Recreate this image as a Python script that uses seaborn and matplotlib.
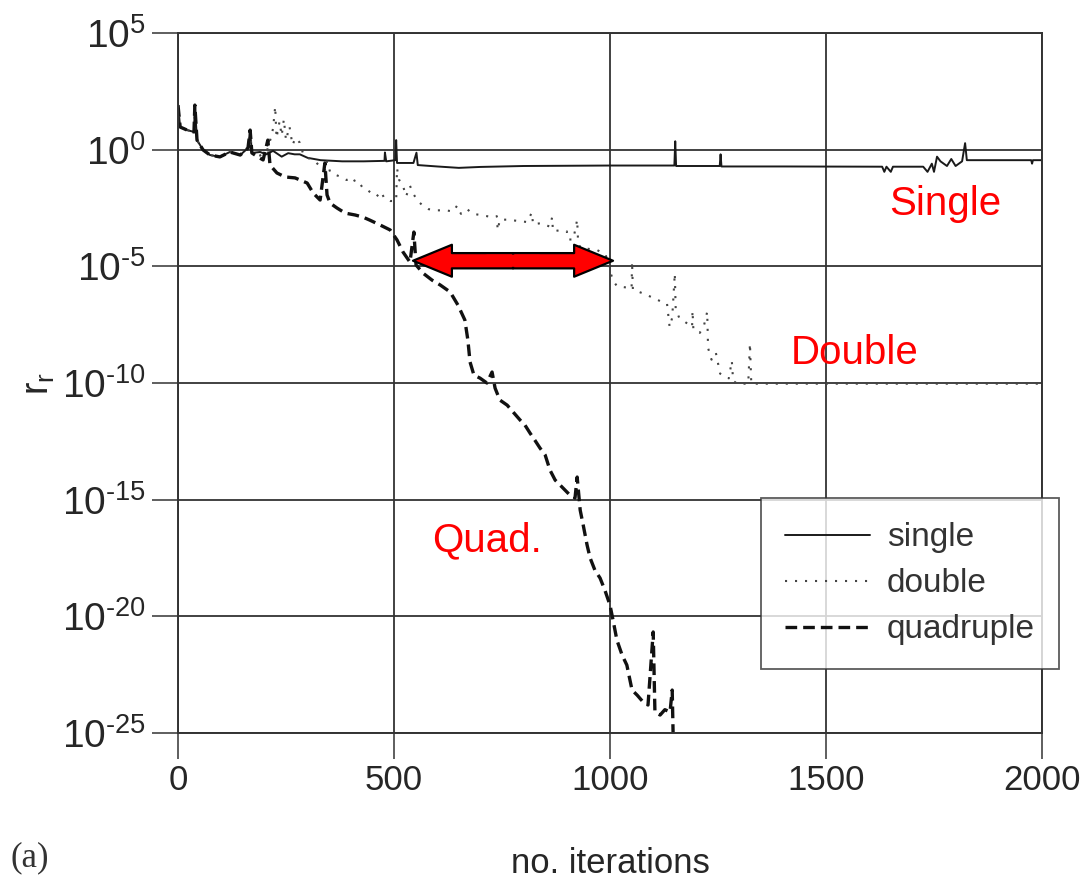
import numpy as np
import pandas as pd
import matplotlib
matplotlib.use("Agg")
import matplotlib.pyplot as plt
import seaborn as sns

# ---------------- data (log10 of r_r) ----------------
single_iter = [0, 5, 21, 37, 39, 44, 58, 74, 97, 120, 144, 162, 167, 171, 190, 205, 220, 240,
               255, 270, 282, 300, 330, 380, 430, 478, 479, 482, 503, 505, 507, 545, 552, 555,
               600, 650, 700, 800, 1000, 1149, 1151, 1153, 1254, 1256, 1258, 1400, 1630, 1635,
               1640, 1650, 1655, 1725, 1735, 1745, 1750, 1757, 1765, 1780, 1790, 1800, 1815,
               1822, 1826, 1975, 1977, 1979, 2000]
single_log = [1.91, 0.97, 0.84, 0.76, 1.91, 0.41, -0.01, -0.23, -0.31, -0.10, -0.23, 0.07, 0.84,
              -0.14, -0.10, -0.20, -0.05, -0.30, -0.15, -0.20, -0.20, -0.35, -0.45, -0.50,
              -0.50, -0.48, -0.12, -0.50, -0.45, 0.41, -0.57, -0.57, -0.13, -0.66, -0.72,
              -0.78, -0.74, -0.70, -0.68, -0.68, 0.36, -0.70, -0.70, -0.20, -0.72, -0.72,
              -0.73, -0.95, -0.73, -0.95, -0.73, -0.73, -0.95, -0.60, -0.95, -0.30, -0.50,
              -0.70, -0.40, -0.70, -0.50, 0.28, -0.45, -0.45, -0.60, -0.45, -0.45]

double_iter = [0, 5, 21, 37, 39, 44, 58, 74, 97, 120, 144, 162, 167, 171, 190, 205, 212, 220,
               225, 228, 235, 240, 245, 250, 258, 265, 272, 282, 290, 305, 320, 330, 342, 345,
               352, 360, 375, 390, 405, 412, 421, 428, 440, 450, 460, 470, 478, 491, 505, 507,
               512, 520, 528, 537, 545, 555, 567, 580, 600, 620, 637, 646, 655, 669, 683, 700,
               715, 729, 738, 740, 745, 762, 785, 808, 819, 822, 840, 861, 866, 868, 885, 900,
               903, 915, 924, 926, 931, 950, 970, 990, 1000, 1007, 1016, 1035, 1050, 1051,
               1053, 1075, 1100, 1123, 1132, 1138, 1144, 1150, 1152, 1160, 1175, 1190, 1191,
               1193, 1208, 1218, 1225, 1227, 1235, 1245, 1255, 1262, 1275, 1282, 1285, 1294,
               1320, 1324, 1327, 2000]
double_log = [1.91, 0.97, 0.84, 0.76, 1.91, 0.41, -0.01, -0.23, -0.31, -0.10, -0.23, 0.07, 0.84,
              -0.14, -0.25, -0.10, 0.30, 0.90, 1.85, 0.50, 1.20, 0.60, 1.30, 0.40, 1.00, 0.20,
              0.50, 0.30, -0.20, -0.40, -0.55, -0.75, -0.90, -0.50, -0.95, -1.05, -1.15, -1.30,
              -1.20, -1.45, -1.45, -1.65, -1.75, -1.90, -2.00, -1.80, -2.10, -2.20, -2.20,
              -0.80, -1.30, -1.50, -2.00, -1.55, -1.90, -2.20, -2.40, -2.55, -2.60, -2.60,
              -2.65, -2.40, -2.75, -2.55, -2.75, -2.80, -2.85, -2.90, -2.85, -3.45, -3.00,
              -3.00, -3.05, -3.10, -2.70, -3.20, -3.15, -3.30, -2.90, -3.50, -3.45, -3.50,
              -3.85, -3.85, -3.00, -3.90, -4.20, -4.25, -4.30, -4.50, -5.20, -5.60, -5.85,
              -5.90, -5.95, -4.80, -6.00, -6.15, -6.35, -6.55, -6.60, -7.60, -7.20, -5.30,
              -6.80, -7.20, -7.40, -7.60, -6.90, -7.70, -7.85, -7.50, -6.95, -8.50, -9.00,
              -8.70, -9.60, -9.70, -9.80, -9.05, -9.90, -10.03, -10.03, -8.30, -10.03, -10.03]

quad_iter = [0, 5, 21, 37, 39, 44, 58, 74, 97, 120, 144, 162, 167, 171, 185, 197, 208, 213, 229,
             248, 271, 299, 313, 329, 340, 345, 352, 368, 387, 410, 428, 444, 468, 491, 507,
             521, 537, 546, 551, 567, 588, 607, 630, 648, 664, 671, 676, 685, 699, 715, 727,
             734, 745, 762, 776, 792, 803, 815, 826, 838, 850, 861, 873, 889, 907, 919, 924,
             931, 938, 947, 954, 965, 977, 988, 1000, 1007, 1016, 1028, 1039, 1051, 1063,
             1077, 1088, 1100, 1104, 1116, 1127, 1139, 1144, 1146]
quad_log = [1.91, 0.97, 0.84, 0.76, 1.91, 0.41, -0.01, -0.23, -0.31, -0.10, -0.23, 0.07, 0.84,
            -0.14, -0.31, -0.44, 0.41, -0.66, -1.00, -1.17, -1.21, -1.43, -1.86, -2.16, -0.57,
            -1.94, -2.29, -2.50, -2.72, -2.80, -2.89, -3.02, -3.23, -3.44, -3.87, -4.39,
            -4.82, -3.53, -4.94, -5.29, -5.59, -5.80, -6.10, -6.66, -7.30, -8.16, -9.10,
            -9.66, -9.79, -10.00, -9.53, -10.22, -10.73, -10.95, -11.25, -11.59, -11.80,
            -12.15, -12.45, -12.79, -13.09, -13.73, -14.16, -14.46, -14.80, -14.93, -14.03,
            -15.45, -16.09, -16.95, -17.50, -18.02, -18.36, -18.87, -19.52, -20.16, -21.02,
            -21.66, -22.09, -23.16, -23.38, -23.68, -23.80, -20.67, -24.10, -24.23, -24.00,
            -24.10, -23.16, -24.96]

series_labels = ["single", "double", "quadruple"]
xtick_values = [0, 500, 1000, 1500, 2000]
ytick_exponents = [5, 0, -5, -10, -15, -20, -25]

# ---------------- style ----------------
sns.set_style("ticks")
plt.rcParams["font.family"] = ["Liberation Sans", "DejaVu Sans"]
plt.rcParams["mathtext.fontset"] = "custom"
plt.rcParams["mathtext.rm"] = "Liberation Sans"
plt.rcParams["mathtext.it"] = "Liberation Sans"
plt.rcParams["mathtext.bf"] = "Liberation Sans"

fig = plt.figure(figsize=(10.92, 8.81), dpi=100)
ax = fig.add_axes([178 / 1092, 1 - 733 / 881, (1042 - 178) / 1092, 700 / 881])

frames = [
    pd.DataFrame({"it": single_iter, "rr": np.power(10.0, single_log)}),
    pd.DataFrame({"it": double_iter, "rr": np.power(10.0, double_log)}),
    pd.DataFrame({"it": quad_iter, "rr": np.power(10.0, quad_log)}),
]
styles = [
    dict(color="#1a1a1a", lw=1.4, linestyle="-"),
    dict(color="#444444", lw=1.5, linestyle=(0, (1, 3.8))),
    dict(color="#111111", lw=2.4, linestyle=(0, (3.5, 1.8))),
]
for df, lab, st in zip(frames, series_labels, styles):
    sns.lineplot(data=df, x="it", y="rr", ax=ax, label=lab, estimator=None, sort=False, **st)

ax.set_yscale("log")
ax.set_xlim(0, 2000)
ax.set_ylim(1e-25, 1e5)
ax.set_xticks(xtick_values)
ax.set_xticklabels([str(v) for v in xtick_values])
ax.set_yticks([10.0 ** e for e in ytick_exponents])
ax.set_yticklabels([f"$10^{{{str(e).replace('-', chr(0x2010))}}}$" for e in ytick_exponents])
ax.yaxis.set_minor_locator(matplotlib.ticker.NullLocator())
ax.grid(True, color="#333333", lw=1.3)
for sp in ax.spines.values():
    sp.set_color("#333333")
    sp.set_linewidth(1.4)
ax.tick_params(axis="both", direction="out", length=19, width=1.1, color="#333333", pad=4)
ax.tick_params(axis="x", labelsize=25, pad=3)
ax.tick_params(axis="y", labelsize=28)
ax.set_xlabel("no. iterations", fontsize=25, labelpad=36)
ax.set_ylabel(r"$\mathrm{r_r}$", fontsize=27, labelpad=4)

leg = ax.legend(loc="center", bbox_to_anchor=(0.847, 0.213), fontsize=24, frameon=True,
                fancybox=False, edgecolor="#333333", handlelength=2.55, handletextpad=0.5,
                labelspacing=0.45, borderpad=0.72, borderaxespad=0)
leg.get_frame().set_linewidth(1.3)
for t in leg.get_texts():
    t.set_color("#333333")

# red annotations
ax.text(1776, 10 ** -2.33, "Single", color="red", fontsize=29, ha="center", va="center")
ax.text(1567, 10 ** -8.72, "Double", color="red", fontsize=29, ha="center", va="center")
ax.text(715, 10 ** -16.73, "Quad.", color="red", fontsize=29, ha="center", va="center")

y_arrow = 10 ** -4.76
x_left, x_right = 544, 1007
x_mid = (x_left + x_right) / 2
arrow_style = "simple,head_length=28,head_width=23,tail_width=11"
for tip in (x_right, x_left):
    ax.annotate("", xy=(tip, y_arrow), xytext=(x_mid, y_arrow),
                arrowprops=dict(arrowstyle=arrow_style, mutation_scale=1, fc="red",
                                ec="black", lw=1.6, shrinkA=0, shrinkB=0), zorder=6)
ax.annotate("", xy=(x_mid + 60, y_arrow), xytext=(x_mid - 60, y_arrow),
            arrowprops=dict(arrowstyle="-", color="red", lw=8.8, shrinkA=0, shrinkB=0),
            zorder=7)

fig.text(10 / 1092, 1 - 858 / 881, "(a)", family="Liberation Serif", fontsize=25,
         va="center", ha="left", color="#333333")

fig.savefig("out.png", dpi=100)
